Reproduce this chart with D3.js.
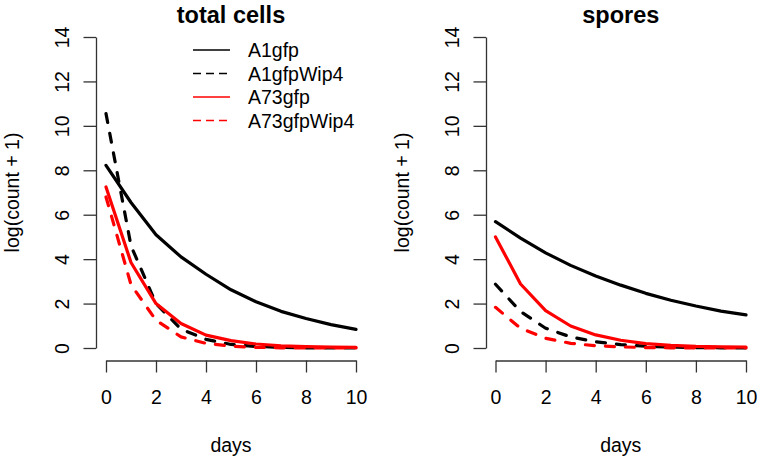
<!DOCTYPE html>
<html><head><meta charset="utf-8">
<script src="https://cdn.jsdelivr.net/npm/d3@7"></script>
<style>body{margin:0;background:#fff}svg{display:block}text{font-family:"Liberation Sans",Arial,sans-serif}</style>
</head><body>
<svg id="chart" width="761" height="461"></svg>
<script>
const days = [0,1,2,3,4,5,6,7,8,9,10];
const seriesNames = ["A1gfp","A1gfpWip4","A73gfp","A73gfpWip4"];
const seriesColors = ["#000000","#000000","#ff0000","#ff0000"];
const seriesDashed = [false,true,false,true];
const yTicks = [0,2,4,6,8,10,12,14];
const xTicks = [0,2,4,6,8,10];
// total cells panel
const totalA1gfp      = [8.22,6.55,5.1,4.1,3.32,2.62,2.08,1.65,1.33,1.05,0.84];
const totalA1gfpWip4  = [10.55,4.6,2.0,0.85,0.39,0.16,0.07,0.03,0.01,0.0,0.0];
const totalA73gfp     = [7.25,3.85,2.0,1.1,0.58,0.33,0.18,0.1,0.06,0.04,0.03];
const totalA73gfpWip4 = [6.8,2.85,1.25,0.5,0.21,0.08,0.03,0.01,0.0,0.0,0.0];
// spores panel
const sporeA1gfp      = [5.69,4.95,4.28,3.72,3.24,2.83,2.46,2.15,1.89,1.66,1.49];
const sporeA1gfpWip4  = [2.87,1.64,0.89,0.5,0.28,0.15,0.08,0.04,0.02,0.01,0.0];
const sporeA73gfp     = [5.0,2.88,1.68,0.99,0.59,0.35,0.2,0.12,0.07,0.05,0.04];
const sporeA73gfpWip4 = [1.83,0.89,0.44,0.21,0.1,0.05,0.02,0.01,0.0,0.0,0.0];

const panels = [
  {title:"total cells", series:[totalA1gfp,totalA1gfpWip4,totalA73gfp,totalA73gfpWip4], x0:106, x1:356, yAxisX:96, ylabX:19, legend:true},
  {title:"spores", series:[sporeA1gfp,sporeA1gfpWip4,sporeA73gfp,sporeA73gfpWip4], x0:495.5, x1:746, yAxisX:486, ylabX:409, legend:false}
];

const svg = d3.select("#chart");
const axisColor = "#333";
const fs = 19.5;

panels.forEach(p => {
  const x = d3.scaleLinear().domain([0,10]).range([p.x0,p.x1]);
  const y = d3.scaleLinear().domain([0,14]).range([348,37]);
  const g = svg.append("g");

  // y axis
  const ya = g.append("g").attr("transform",`translate(${p.yAxisX},0)`)
    .call(d3.axisLeft(y).tickValues(yTicks).tickSize(12.5).tickSizeOuter(0).tickFormat(d3.format("d")));
  ya.select(".domain").attr("stroke",axisColor).attr("stroke-width",1.3);
  ya.selectAll(".tick line").attr("stroke",axisColor).attr("stroke-width",1.3);
  ya.selectAll(".tick text").attr("font-size",fs).attr("fill","#000")
    .attr("font-family",'"Liberation Sans",Arial,sans-serif')
    .attr("x",null).attr("dy",null).attr("text-anchor","middle")
    .attr("transform","translate(-27.5,0) rotate(-90)");

  // x axis
  const xa = g.append("g").attr("transform",`translate(0,360.5)`)
    .call(d3.axisBottom(x).tickValues(xTicks).tickSize(12).tickSizeOuter(0).tickFormat(d3.format("d")));
  xa.select(".domain").attr("stroke",axisColor).attr("stroke-width",1.3);
  xa.selectAll(".tick line").attr("stroke",axisColor).attr("stroke-width",1.3);
  xa.selectAll(".tick text").attr("font-size",fs).attr("fill","#000")
    .attr("font-family",'"Liberation Sans",Arial,sans-serif')
    .attr("y",43.5).attr("dy",null);

  // title
  g.append("text").attr("x",(p.x0+p.x1)/2).attr("y",23).attr("text-anchor","middle")
    .attr("font-size",23.5).attr("font-weight","bold").text(p.title);
  // x label
  g.append("text").attr("x",(p.x0+p.x1)/2).attr("y",452).attr("text-anchor","middle")
    .attr("font-size",fs).text("days");
  // y label
  g.append("text").attr("transform",`translate(${p.ylabX},${(y(0)+y(14))/2}) rotate(-90)`)
    .attr("text-anchor","middle").attr("font-size",fs).text("log(count + 1)");

  // lines
  const line = d3.line().x((d,i)=>x(days[i])).y(d=>y(d));
  p.series.forEach((s,k) => {
    g.append("path").datum(s).attr("d",line).attr("fill","none")
      .attr("stroke",seriesColors[k]).attr("stroke-width",3.2)
      .attr("stroke-linecap","round").attr("stroke-linejoin","round")
      .attr("stroke-dasharray",seriesDashed[k]?"9,11":null);
  });

  if (p.legend) {
    const lg = g.append("g");
    seriesNames.forEach((n,k) => {
      const yy = 50 + k*23.5;
      lg.append("line").attr("x1",193).attr("x2",230).attr("y1",yy).attr("y2",yy)
        .attr("stroke",seriesColors[k]).attr("stroke-width",1.6)
        .attr("stroke-dasharray",seriesDashed[k]?"8,5":null);
      lg.append("text").attr("x",248).attr("y",yy+7).attr("font-size",fs).text(n);
    });
  }
});
</script>
</body></html>
